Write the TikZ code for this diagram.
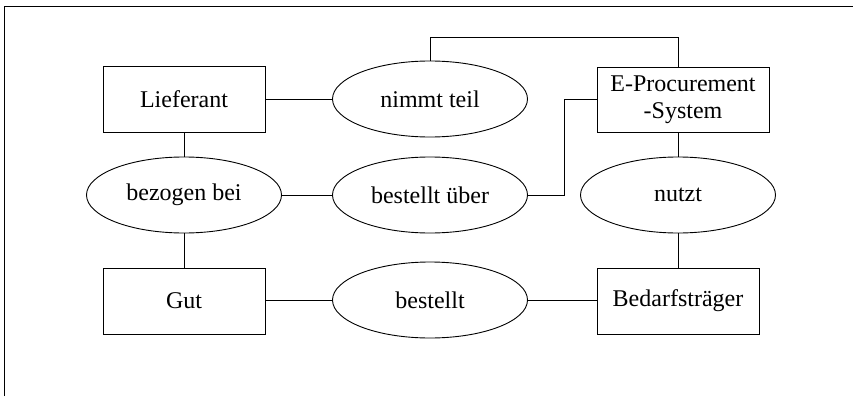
\documentclass[tikz,border=0pt]{standalone}
\usepackage{fontspec}
\setmainfont{Liberation Serif}
\usetikzlibrary{shapes.geometric}
\begin{document}
\begin{tikzpicture}[x=1pt,y=-1pt,line width=0.9pt,
  ent/.style={draw,rectangle,inner sep=0pt,font=\fontsize{24}{27.5}\selectfont,align=center},
  rel/.style={draw,ellipse,inner sep=0pt,minimum width=195pt,minimum height=76pt,font=\fontsize{24}{27.5}\selectfont}]
\useasboundingbox (0,0) rectangle (853,396);
\draw[line width=1pt] (4,396) -- (4,7) -- (853,7);
\node[ent,minimum width=162pt,minimum height=66pt] (lief) at (184,99) {Lieferant};
\node[ent,minimum width=162pt,minimum height=66pt] (gut) at (184,301) {Gut};
\node[ent,minimum width=172pt,minimum height=65pt] (eps) at (683,99.5) {E-Procurement\\-System};
\node[ent,minimum width=162pt,minimum height=66pt] (bed) at (678,301) {Bedarfsträger};
\node[rel] (nimmt) at (430,99) {nimmt teil};
\node[rel] (bez) at (184,195) {bezogen bei};
\node[rel] (bue) at (430,195) {bestellt über};
\node[rel] (nutzt) at (678,195) {nutzt};
\node[rel] (best) at (430,300) {bestellt};
\coordinate (top) at (678,37);
\draw (lief.east) -- (lief.east -| nimmt.west);
\draw (lief.south) -- (bez.north);
\draw (bez.south) -- (gut.north);
\draw (bez.east) -- (bue.west);
\draw (gut.east |- best.west) -- (best.west);
\draw (best.east) -- (best.east -| bed.west);
\draw (nutzt.south) -- (bed.north);
\draw (nutzt.north) -- (nutzt.north |- eps.south);
\draw (nimmt.north) |- (top) -- (top |- eps.north);
\draw (bue.east) -- ++(36,0) |- (eps.west);
\end{tikzpicture}
\end{document}
